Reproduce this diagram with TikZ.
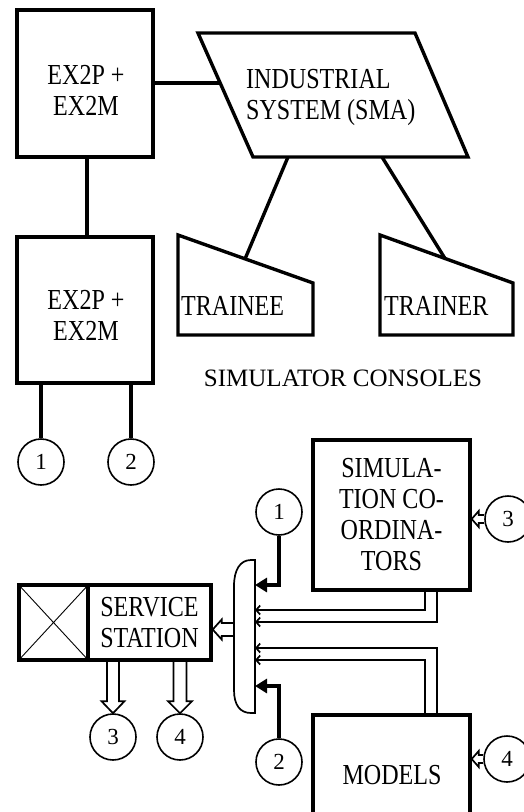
\documentclass[tikz,border=0pt]{standalone}
\usepackage{fontspec}
\setmainfont{Liberation Serif}
\newfontfamily\boxfont[FakeStretch=0.83]{Liberation Serif}
\usetikzlibrary{arrows.meta,calc}
\pgfdeclarelayer{bg}
\pgfsetlayers{bg,main}
\tikzset{
  thickbox/.style={draw, line width=3.4pt, inner sep=0pt},
  lbl/.style={inner sep=0pt, align=center, font=\boxfont\fontsize{29}{31}\selectfont},
  numc/.style={draw, circle, line width=1.6pt, minimum size=46pt, inner sep=0pt, font=\fontsize{23}{23}\selectfont},
  conn/.style={line width=3.4pt},
  thinln/.style={line width=1.7pt},
  barb/.style={thinln, -{Straight Barb[length=4pt,width=9pt]}},
  filledarr/.style={line width=3.2pt, -{Triangle[length=12pt,width=14pt]}},
  hleft/.style n args={3}{thinln, to path={let \p1=(\tikztostart), \p2=(\tikztotarget) in
    (\x1,\y1+#1) -- (\x2+#3,\y1+#1) -- (\x2+#3,\y1+#2) -- (\x2,\y1) -- (\x2+#3,\y1-#2) -- (\x2+#3,\y1-#1) -- (\x1,\y1-#1)}},
  hdown/.style n args={3}{thinln, to path={let \p1=(\tikztostart), \p2=(\tikztotarget) in
    (\x1-#1,\y1) -- (\x1-#1,\y2+#3) -- (\x1-#2,\y2+#3) -- (\x1,\y2) -- (\x1+#2,\y2+#3) -- (\x1+#1,\y2+#3) -- (\x1+#1,\y1)}},
}
\begin{document}
\begin{tikzpicture}[x=1pt,y=-1pt]
\useasboundingbox (0,0) rectangle (524,812);
% ---------- top part ----------
\node[thickbox, minimum width=136pt, minimum height=147pt] (b1) at (85,83.5) {};
\node[lbl] (b1t) at (86,90) {EX2P +\\EX2M};
\node[thickbox, minimum width=136pt, minimum height=146pt] (b2) at (85,310) {};
\node[lbl] (b2t) at (86,315) {EX2P +\\EX2M};

\draw[conn] (198,33) -- (415,33) -- (468,157) -- (253,157) -- cycle;
\coordinate (smaL) at (220,83);
\coordinate (smaB1) at (288,157);
\coordinate (smaB2) at (382,157);
\node[lbl, align=left, anchor=west] (sma) at (246,97.5) {INDUSTRIAL\\SYSTEM (SMA)};

\draw[conn] (178,235) -- (313,283) -- (313,335) -- (178,335) -- cycle;
\coordinate (tneT) at (245,259);
\node[lbl, anchor=west] (tne) at (181,306) {TRAINEE};
\draw[conn] (380,235) -- (513,283) -- (513,335) -- (380,335) -- cycle;
\coordinate (tnrT) at (445,258.5);
\node[lbl, anchor=west] (tnr) at (384,306) {TRAINER};

\node[inner sep=0pt, font=\fontsize{25}{25}\selectfont] (cons) at (343,378) {SIMULATOR CONSOLES};

\node[numc] (n1a) at (41,462) {1};
\node[numc] (n2a) at (131,462) {2};

\draw[conn] (b1.east |- smaL) -- (smaL);
\draw[conn] (b1.south -| 87,0) -- (b2.north -| 87,0);
\draw[conn] (smaB1) -- (tneT);
\draw[conn] (smaB2) -- (tnrT);
\draw[conn] (b2.south -| n1a) -- (n1a);
\draw[conn] (b2.south -| n2a) -- (n2a);

% ---------- bottom part ----------
\node[thickbox, lbl, minimum width=157pt, minimum height=150pt] (sim) at (391.5,515) {SIMULA-\\TION CO-\\ORDINA-\\TORS};
\node[thickbox, minimum width=157pt, minimum height=130pt] (mod) at (391.5,780) {};
\node[lbl] (modt) at (392,775) {MODELS};

\node[thickbox, minimum width=69pt, minimum height=75pt] (xb) at (53.5,622.5) {};
\draw[line width=0.9pt] (xb.north west) -- (xb.south east) (xb.north east) -- (xb.south west);
\node[thickbox, lbl, minimum width=123pt, minimum height=75pt] (ss) at (149.5,622.5) {SERVICE\\STATION};

\node[numc] (n3a) at (113,737) {3};
\node[numc] (n4a) at (180,737) {4};
\node[numc] (n1b) at (279,512) {1};
\node[numc] (n2b) at (279,762) {2};
\node[numc] (n3b) at (508,519) {3};
\node[numc] (n4b) at (507,759) {4};

% bus
\draw[thinln] (255,560) -- (251,560) .. controls (240,560) and (234,570) .. (234,586) -- (234,690) .. controls (234,705) and (240,713) .. (251,713) -- (255,713) -- cycle;
\coordinate (pin1) at (255,585);
\coordinate (pin2) at (255,610);
\coordinate (pin3) at (255,622);
\coordinate (pin4) at (255,648);
\coordinate (pin5) at (255,660);
\coordinate (pin6) at (255,686);
\coordinate (pout) at (234,629.5);
\coordinate (xl) at (425,0);
\coordinate (xr) at (437,0);

\begin{pgfonlayer}{bg}
\draw[filledarr] (n1b) |- (pin1);
\draw[filledarr] (n2b) |- (pin6);
\draw[barb] (sim.south -| xl) |- (pin2);
\draw[barb] (sim.south -| xr) |- (pin3);
\draw[barb] (mod.north -| xr) |- (pin4);
\draw[barb] (mod.north -| xl) |- (pin5);
\end{pgfonlayer}
\draw[hleft={6.5pt}{10pt}{9pt}] (pout) to (ss.east |- pout);
\draw[hdown={6pt}{11.5pt}{12pt}] (ss.south -| n3a) to (n3a.north);
\draw[hdown={6.5pt}{12pt}{12pt}] (ss.south -| n4a) to (n4a.north);
\draw[hleft={4pt}{8pt}{7pt}] (n3b.west) to (sim.east |- n3b);
\draw[hleft={4pt}{8pt}{7pt}] (n4b.west) to (mod.east |- n4b);
\end{tikzpicture}
\end{document}
